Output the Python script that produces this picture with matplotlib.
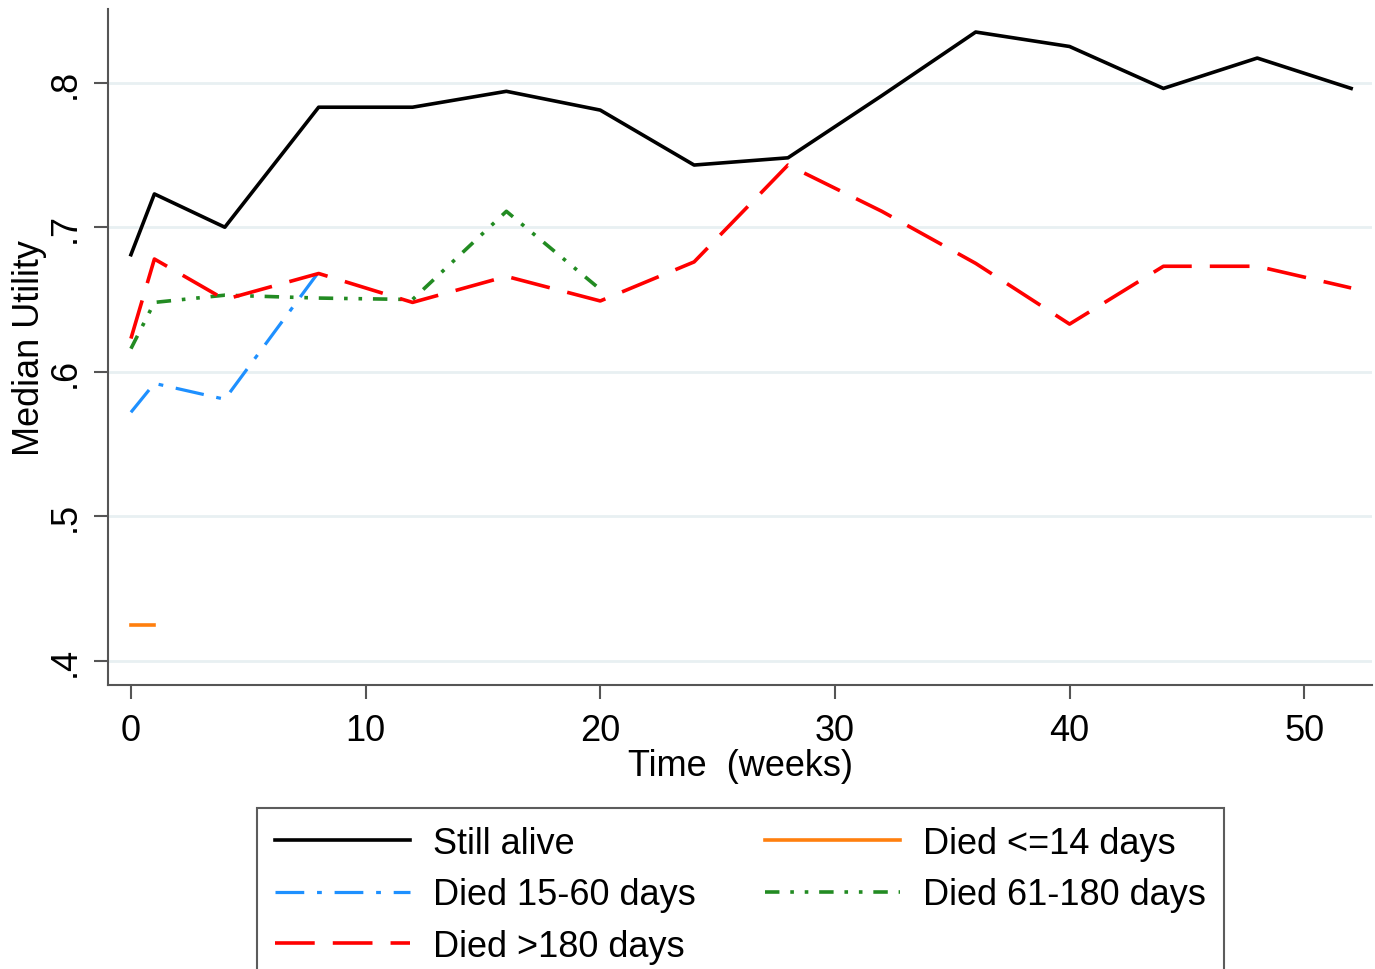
import matplotlib
matplotlib.use('Agg')
import matplotlib.pyplot as plt

'''
Median utility over time, by survival group (Stata-like look).
'''

plt.rcParams['font.family'] = ['Liberation Sans', 'DejaVu Sans']

# weeks and median utility per group
weeks_all = [0, 1, 4, 8, 12, 16, 20, 24, 28, 32, 36, 40, 44, 48, 52]
still_alive = [0.681, 0.723, 0.700, 0.783, 0.783, 0.794, 0.781, 0.743, 0.748,
               0.791, 0.835, 0.825, 0.796, 0.817, 0.796]
died_gt180 = [0.623, 0.678, 0.650, 0.668, 0.648, 0.666, 0.649, 0.676, 0.743,
              0.711, 0.675, 0.633, 0.673, 0.673, 0.658]

weeks_le14 = [0, 1]
died_le14 = [0.425, 0.425]

weeks_15_60 = [0, 1, 4, 8]
died_15_60 = [0.572, 0.592, 0.581, 0.669]

weeks_61_180 = [0, 1, 4, 8, 12, 16, 20]
died_61_180 = [0.616, 0.648, 0.653, 0.651, 0.650, 0.711, 0.657]

y_ticks = [0.4, 0.5, 0.6, 0.7, 0.8]
y_tick_labels = ['.4', '.5', '.6', '.7', '.8']
x_ticks = [0, 10, 20, 30, 40, 50]


def plotting():
    fig = plt.figure(figsize=(13.75, 9.7), dpi=100)
    fig.patch.set_facecolor('white')
    ax = fig.add_axes([0.0785, 0.2928, 0.9195, 0.697])

    lw = 2.6
    h_alive, = ax.plot(weeks_all, still_alive, color='black', lw=lw, label='Still alive')
    h_le14, = ax.plot(weeks_le14, died_le14, color='#ff7f0e', lw=lw, label='Died <=14 days')
    h_1560, = ax.plot(weeks_15_60, died_15_60, color='#1e90ff', lw=lw - 0.3,
                      dashes=(9, 4, 1.5, 4), label='Died 15-60 days')
    h_61180, = ax.plot(weeks_61_180, died_61_180, color='#228b22', lw=lw,
                       dashes=(4, 3, 1, 3, 1, 3), label='Died 61-180 days')
    h_gt180, = ax.plot(weeks_all, died_gt180, color='red', lw=lw,
                       dashes=(11, 5), label='Died >180 days')

    ax.set_xlim(-0.98, 52.9)
    ax.set_ylim(0.3834, 0.851)
    ax.set_xticks(x_ticks)
    ax.set_yticks(y_ticks)
    ax.set_yticklabels(y_tick_labels, rotation=90, va='center')
    ax.tick_params(axis='both', labelsize=26, length=10, width=1.5, color='#555555')
    ax.tick_params(axis='x', pad=10)
    ax.tick_params(axis='y', pad=8)

    ax.grid(axis='y', color='#e8f0f2', lw=2)
    ax.set_axisbelow(True)
    for side in ['top', 'right']:
        ax.spines[side].set_visible(False)
    for side in ['left', 'bottom']:
        ax.spines[side].set_color('#555555')
        ax.spines[side].set_linewidth(1.5)

    ax.set_xlabel('Time  (weeks)', fontsize=26, labelpad=0)
    ax.set_ylabel('Median Utility', fontsize=26, labelpad=1)

    leg = fig.legend([h_alive, h_1560, h_gt180, h_le14, h_61180],
                     ['Still alive', 'Died 15-60 days', 'Died >180 days',
                      'Died <=14 days', 'Died 61-180 days'],
                     ncol=2, loc='upper center', bbox_to_anchor=(0.5385, 0.166),
                     fontsize=26, frameon=True, fancybox=False,
                     handlelength=3.75, handletextpad=0.64, borderpad=0.5,
                     labelspacing=0.45, columnspacing=1.9, borderaxespad=0)
    leg.get_frame().set_edgecolor('#333333')
    leg.get_frame().set_linewidth(1.5)

    fig.savefig('out.png', dpi=100, facecolor='white')


if __name__ == '__main__':
    plotting()
